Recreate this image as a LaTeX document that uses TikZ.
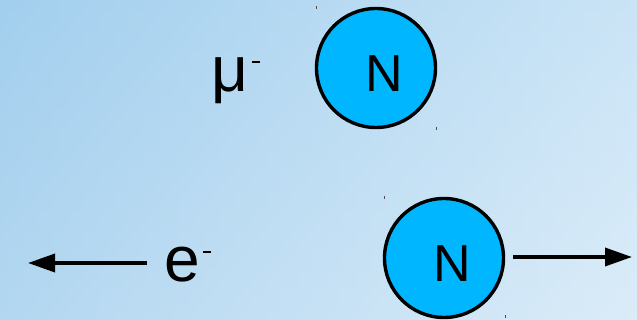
\documentclass[tikz,border=0pt]{standalone}
\usepackage{fontspec}
\setmainfont{Liberation Sans}
\usetikzlibrary{arrows.meta}
\definecolor{bgL}{RGB}{124,184,231}
\definecolor{bgR}{RGB}{204,226,247}
\definecolor{bgT}{RGB}{200,230,245}
\definecolor{bgB}{RGB}{234,246,250}
\definecolor{nucfill}{RGB}{0,183,255}
\tikzset{
  nucleus/.style={circle, draw=black, line width=3.4pt, fill=nucfill, minimum size=119pt, inner sep=0pt},
  nlabel/.style={anchor=base, inner sep=0pt, font=\fontsize{52}{52}\selectfont},
  plabel/.style={anchor=base west, inner sep=0pt, font=\fontsize{64}{64}\selectfont},
  flyarrow/.style={line width=3.6pt, -{Triangle[length=27pt,width=18pt]}},
  tick/.style={line width=0.8pt, draw=black!70}
}
\newcommand{\supminus}[1]{\kern#1\rule[28.5pt]{7.5pt}{2.8pt}}
\begin{document}
\begin{tikzpicture}[x=1pt,y=-1pt]
\useasboundingbox (0,0) rectangle (637,320);
\shade[left color=bgL, right color=bgR] (0,0) rectangle (637,320);
\shade[top color=bgT, bottom color=bgB, opacity=0.5] (0,0) rectangle (637,320);
% bounding marks
\draw[tick] (316,6) -- (316,9);
\draw[tick] (436,127) -- (436,130);
\draw[tick] (384,196) -- (384,199);
\draw[tick] (505,315) -- (505,318);
% nuclei
\node[nucleus] (c1) at (376,68) {};
\node[nlabel] (n1) at (384,92) {N};
\node[nucleus] (c2) at (444,258) {};
\node[nlabel] (n2) at (452,282) {N};
% particles
\node[plabel] (mu) at (211,92) {μ\supminus{4pt}};
\node[plabel] (el) at (164.5,282) {e\supminus{3pt}};
% arrows
\coordinate (rend) at (632,257);
\coordinate (lstart) at (147,263);
\coordinate (lend) at (28,263);
\draw[flyarrow] ([xshift=8pt]c2.east |- rend) -- (rend);
\draw[flyarrow] (lstart) -- (lend);
\end{tikzpicture}
\end{document}
